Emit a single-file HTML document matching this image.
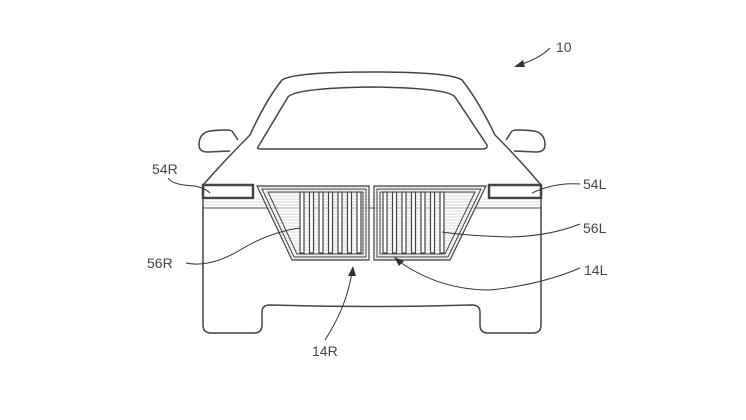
<!DOCTYPE html>
<html><head><style>
html,body{margin:0;padding:0;background:#fff;}
svg{display:block;}
text{font-family:"Liberation Sans",sans-serif;font-size:14px;fill:#444;}
</style></head><body>
<svg width="746" height="420" viewBox="0 0 746 420" xmlns="http://www.w3.org/2000/svg">
<defs>
<pattern id="hl" width="4" height="3" patternUnits="userSpaceOnUse"><line x1="0" y1="1" x2="4" y2="1" stroke="#ccc" stroke-width="0.7"/></pattern>
</defs>
<g fill="none" stroke="#444" stroke-width="1.5">
<!-- body -->
<path d="M203,185 L203,325 Q203,333 211,333 L254,333 Q262,333 262,325 L262,312 Q262,305 270,305 Q370,308 472,305 Q480,305 480,312 L480,325 Q480,333 488,333 L533,333 Q541,333 541,325 L541,185 Q520,160 495,135 Q478,100 462,80 Q450,72 372,72 Q294,72 282,80 Q266,100 250,135 Q225,160 203,185 Z"/>
<!-- windshield -->
<path d="M258,147 L288,97 Q296,88 372,87 Q448,88 455,97 L487,145 Q488,149 482,149 L262,149 Q256,149 258,147 Z"/>
<!-- mirrors -->
<path d="M238,140 L232,131 Q228,129 210,131 Q199,133 199,145 Q199,152 208,152 L230,151"/>
<path d="M506,140 L512,131 Q516,129 534,131 Q545,133 545,145 Q545,152 536,152 L514,151"/>
<!-- headlights -->
<rect x="203" y="185" width="50" height="13" stroke-width="2.5"/>
<rect x="489" y="185" width="52" height="13" stroke-width="2.5"/>
<line x1="203" y1="208" x2="541" y2="208" stroke-width="1"/>
</g>
<rect x="203" y="199" width="338" height="8" fill="url(#hl)"/>
<!-- grilles -->
<path d="M257,186 L369,186 L369,260 L292,260 Z" fill="url(#hl)" stroke="#444" stroke-width="1.2"/>
<path d="M262,189 L366,189 L366,257 L294,257 Z" fill="none" stroke="#444" stroke-width="1"/>
<path d="M268,192 L363,192 L363,254 L297,254 Z" fill="none" stroke="#444" stroke-width="1"/>
<path d="M486,186 L374,186 L374,260 L450,260 Z" fill="url(#hl)" stroke="#444" stroke-width="1.2"/>
<path d="M481,189 L377,189 L377,257 L448,257 Z" fill="none" stroke="#444" stroke-width="1"/>
<path d="M475,192 L380,192 L380,254 L445,254 Z" fill="none" stroke="#444" stroke-width="1"/>
<g fill="#fff" stroke="#444" stroke-width="1.2">
<rect x="300" y="192" width="4" height="61"/><rect x="309.5" y="192" width="4" height="61"/><rect x="319" y="192" width="4" height="61"/><rect x="328.5" y="192" width="4" height="61"/><rect x="338" y="192" width="4" height="61"/><rect x="347.5" y="192" width="4" height="61"/><rect x="357" y="192" width="4" height="61"/>
<rect x="383" y="192" width="4" height="61"/><rect x="392.5" y="192" width="4" height="61"/><rect x="402" y="192" width="4" height="61"/><rect x="411.5" y="192" width="4" height="61"/><rect x="421" y="192" width="4" height="61"/><rect x="430.5" y="192" width="4" height="61"/><rect x="440" y="192" width="4" height="61"/>
</g>
<!-- leaders -->
<g fill="none" stroke="#333" stroke-width="1">
<path d="M168,178 Q172,185 195,186 Q205,188 210,193"/>
<path d="M186,263 Q210,268 240,250 Q270,232 300,228"/>
<path d="M580,224 Q550,236 510,237 Q470,236 442,232"/>
<path d="M580,184 Q555,182 532,193"/>
<path d="M580,268 Q540,285 490,290 Q440,290 400,262"/>
<path d="M325,340 Q338,320 345,300 Q350,285 352,272"/>
<path d="M550,48 Q540,58 522,64"/>
</g>
<g fill="#333">
<path d="M394,257 L404,261 L399,266 Z"/>
<path d="M353,266 L348,276 L356,276 Z"/>
<path d="M514,67 L523,60 L525,67 Z"/>
</g>
<text x="556" y="52">10</text>
<text x="152" y="174">54R</text>
<text x="583" y="189">54L</text>
<text x="583" y="233">56L</text>
<text x="147" y="268">56R</text>
<text x="584" y="275">14L</text>
<text x="312" y="356">14R</text>
</svg>
</body></html>
